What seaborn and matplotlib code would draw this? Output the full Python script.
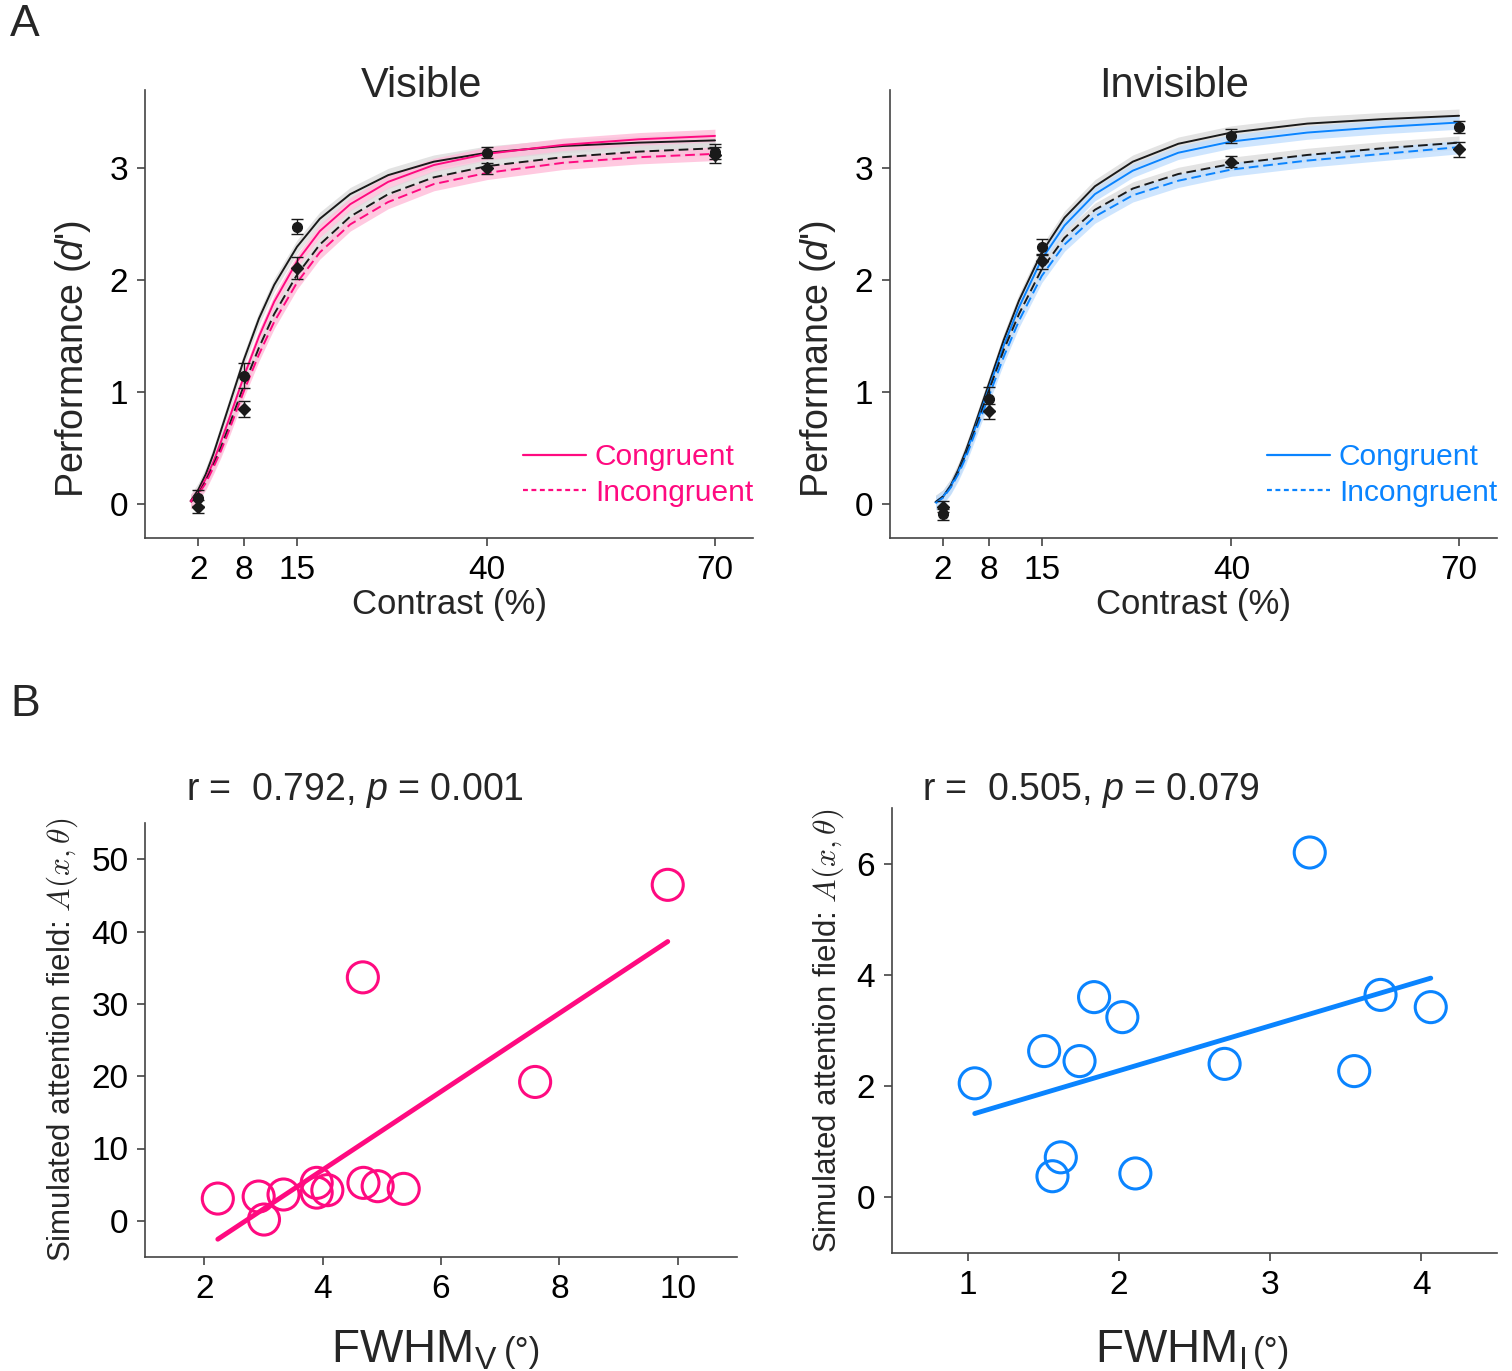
import matplotlib
matplotlib.use('Agg')
import matplotlib.pyplot as plt
from matplotlib.lines import Line2D
import seaborn as sns
import pandas as pd
import numpy as np

sns.set_style('ticks')
plt.rcParams['font.family'] = ['Liberation Sans', 'DejaVu Sans']
plt.rcParams['mathtext.fontset'] = 'custom'
plt.rcParams['mathtext.rm'] = 'Liberation Sans'
plt.rcParams['mathtext.it'] = 'Liberation Sans:italic'
plt.rcParams['axes.edgecolor'] = '#444444'
plt.rcParams['xtick.color'] = '#444444'
plt.rcParams['ytick.color'] = '#444444'
plt.rcParams['xtick.labelcolor'] = 'black'
plt.rcParams['ytick.labelcolor'] = 'black'

PINK = '#ff0a80'
BLUE = '#0a84ff'
DARK = '#1a1a1a'

# ---- panel A: measured d' (mean +- sem) ----
contrast = [2, 8, 15, 40, 70]
vis_cong = [0.06, 1.15, 2.48, 3.14, 3.15]
vis_cong_err = [0.07, 0.11, 0.065, 0.05, 0.07]
vis_incong = [-0.02, 0.85, 2.11, 3.00, 3.12]
vis_incong_err = [0.06, 0.07, 0.10, 0.05, 0.07]
inv_cong = [-0.09, 0.94, 2.30, 3.29, 3.37]
inv_cong_err = [0.05, 0.11, 0.07, 0.06, 0.05]
inv_incong = [-0.02, 0.83, 2.17, 3.06, 3.17]
inv_incong_err = [0.05, 0.07, 0.07, 0.05, 0.07]

# fitted contrast-response curves
fit_contrast = [1, 2, 3, 4, 5, 6, 8, 10, 12, 15, 18, 22, 27, 33, 40, 50, 60, 70]
vis_fit_black_cong = [0.03, 0.13, 0.27, 0.45, 0.66, 0.87, 1.29, 1.66, 1.96, 2.30, 2.55, 2.77, 2.94, 3.06, 3.14, 3.20, 3.23, 3.25]
vis_fit_col_cong = [0.03, 0.10, 0.23, 0.38, 0.56, 0.75, 1.14, 1.50, 1.81, 2.17, 2.44, 2.68, 2.88, 3.03, 3.13, 3.21, 3.26, 3.29]
vis_fit_black_incong = [0.02, 0.09, 0.21, 0.35, 0.51, 0.69, 1.06, 1.40, 1.70, 2.05, 2.32, 2.57, 2.77, 2.92, 3.02, 3.10, 3.15, 3.18]
vis_fit_col_incong = [0.02, 0.09, 0.19, 0.33, 0.48, 0.65, 1.01, 1.34, 1.63, 1.98, 2.25, 2.50, 2.70, 2.86, 2.96, 3.05, 3.10, 3.13]
inv_fit_black_cong = [0.02, 0.07, 0.17, 0.31, 0.48, 0.67, 1.07, 1.47, 1.82, 2.25, 2.56, 2.84, 3.06, 3.22, 3.32, 3.40, 3.44, 3.47]
inv_fit_col_cong = [0.02, 0.07, 0.16, 0.29, 0.45, 0.64, 1.03, 1.42, 1.76, 2.19, 2.49, 2.77, 2.98, 3.14, 3.24, 3.32, 3.37, 3.41]
inv_fit_black_incong = [0.02, 0.07, 0.16, 0.29, 0.45, 0.63, 1.01, 1.38, 1.70, 2.10, 2.38, 2.63, 2.82, 2.95, 3.04, 3.12, 3.18, 3.23]
inv_fit_col_incong = [0.01, 0.06, 0.15, 0.27, 0.42, 0.60, 0.96, 1.32, 1.64, 2.04, 2.32, 2.57, 2.76, 2.89, 2.99, 3.07, 3.13, 3.19]
fit_band = 0.06

# ---- panel B: FWHM vs simulated attention field ----
fwhm_vis = [2.23, 2.92, 3.01, 3.34, 3.90, 3.90, 4.08, 4.69, 4.93, 5.37, 4.68, 7.59, 9.83]
attn_vis = [3.08, 3.36, 0.18, 3.64, 5.25, 3.90, 4.24, 5.25, 4.79, 4.42, 33.66, 19.2, 46.45]
fwhm_inv = [1.047, 1.506, 1.74, 1.836, 2.023, 1.616, 1.561, 2.109, 2.699, 3.262, 3.556, 3.73, 4.062]
attn_inv = [2.05, 2.63, 2.45, 3.60, 3.24, 0.72, 0.38, 0.43, 2.40, 6.20, 2.27, 3.64, 3.42]
stats_vis = 'r =  0.792, $p$ = 0.001'
stats_inv = 'r =  0.505, $p$ = 0.079'

W, H = 1512, 1371
fig = plt.figure(figsize=(W / 100, H / 100), dpi=100)


def px_axes(x0, y0, x1, y1):
    return fig.add_axes([x0 / W, 1 - y1 / H, (x1 - x0) / W, (y1 - y0) / H])


def style_axes(ax):
    sns.despine(ax=ax)
    ax.tick_params(direction='out', length=6, width=1.2, labelsize=24, pad=6)
    for s in ['left', 'bottom']:
        ax.spines[s].set_linewidth(1.2)


def panel_a(ax, title, color, band_color, fits, cong, cong_err, incong, incong_err, tx):
    rows = []
    for name, vals in fits.items():
        rows += [{'contrast': c, 'dprime': v, 'fit': name} for c, v in zip(fit_contrast, vals)]
    df = pd.DataFrame(rows)
    for name, vals in fits.items():
        v = np.array(vals)
        bc = '#dcdcdc' if name.startswith('black') else band_color
        ax.fill_between(fit_contrast, v - fit_band, v + fit_band, color=bc, lw=0, alpha=0.8)
    sns.lineplot(data=df, x='contrast', y='dprime', hue='fit', style='fit',
                 palette={'black_cong': DARK, 'col_cong': color,
                          'black_incong': DARK, 'col_incong': color},
                 dashes={'black_cong': '', 'col_cong': '',
                         'black_incong': (5, 2.5), 'col_incong': (5, 2.5)},
                 linewidth=1.4, legend=False, ax=ax)
    ax.errorbar(contrast, cong, yerr=cong_err, fmt='o', color=DARK, ms=7,
                capsize=4, elinewidth=1, capthick=1, zorder=5)
    ax.errorbar(contrast, incong, yerr=incong_err, fmt='D', color=DARK, ms=6,
                capsize=4, elinewidth=1, capthick=1, zorder=5)
    ax.set_xlim(-5, 75)
    ax.set_ylim(-0.3, 3.7)
    ax.set_xticks(contrast)
    ax.set_yticks([0, 1, 2, 3])
    style_axes(ax)
    ax.set_xlabel('Contrast (%)', fontsize=25, labelpad=2)
    ax.set_ylabel("Performance ($d$')", fontsize=27)
    ax.yaxis.set_label_coords(-0.085, 0.40)
    ax.text(tx, 1.01, title, transform=ax.transAxes, ha='center', va='center', fontsize=30)
    handles = [Line2D([], [], color=color, lw=1.6),
               Line2D([], [], color=color, lw=1.6, ls=(0, (2.2, 1.6)))]
    ax.legend(handles, ['Congruent', 'Incongruent'], loc='lower right',
              bbox_to_anchor=(1.0, 0.07), frameon=False, fontsize=21.5,
              labelcolor='linecolor', handlelength=2.1, handletextpad=0.3,
              labelspacing=0.25, borderpad=0, borderaxespad=0)


def panel_b(ax, x, y, color, stats, sub, xlim, ylim, xticks, yticks, tx, ty, jx, by):
    sns.regplot(x=x, y=y, ci=None, ax=ax, color=color,
                scatter_kws={'s': 500, 'facecolors': 'none', 'edgecolors': color,
                             'linewidths': 2.2, 'alpha': 1},
                line_kws={'lw': 3.5})
    ax.set_xlim(*xlim)
    ax.set_ylim(*ylim)
    ax.set_xticks(xticks)
    ax.set_yticks(yticks)
    style_axes(ax)
    ax.set_xlabel('')
    ax.text(jx, by, 'FWHM$_{\\mathrm{' + sub + '}}$', transform=ax.transAxes,
            ha='right', va='baseline', fontsize=33)
    ax.text(jx + 0.012, by, '(°)', transform=ax.transAxes,
            ha='left', va='baseline', fontsize=25)
    ax.set_ylabel(r'Simulated attention field: $A(x,\theta)$', fontsize=22.5,
                  labelpad=8, math_fontfamily='cm')
    ax.text(tx, ty, stats, transform=ax.transAxes, ha='left', va='center', fontsize=27)


ax1 = px_axes(145, 90, 753, 538)
panel_a(ax1, 'Visible', PINK, '#ffbcd9',
        {'black_cong': vis_fit_black_cong, 'col_cong': vis_fit_col_cong,
         'black_incong': vis_fit_black_incong, 'col_incong': vis_fit_col_incong},
        vis_cong, vis_cong_err, vis_incong, vis_incong_err, 0.454)

ax2 = px_axes(890, 90, 1497, 538)
panel_a(ax2, 'Invisible', BLUE, '#c2dffe',
        {'black_cong': inv_fit_black_cong, 'col_cong': inv_fit_col_cong,
         'black_incong': inv_fit_black_incong, 'col_incong': inv_fit_col_incong},
        inv_cong, inv_cong_err, inv_incong, inv_incong_err, 0.468)

ax3 = px_axes(145, 823, 737, 1257)
panel_b(ax3, fwhm_vis, attn_vis, PINK, stats_vis, 'V',
        (1, 11), (-5, 55), [2, 4, 6, 8, 10], [0, 10, 20, 30, 40, 50],
        0.07, 1.076, 0.595, -0.242)

ax4 = px_axes(892, 808, 1497, 1253)
panel_b(ax4, fwhm_inv, attn_inv, BLUE, stats_inv, 'I',
        (0.5, 4.5), (-1, 7), [1, 2, 3, 4], [0, 2, 4, 6],
        0.05, 1.04, 0.585, -0.245)

fig.text(10 / W, 1 - 25 / H, 'A', fontsize=32, va='center', ha='left')
fig.text(10 / W, 1 - 705 / H, 'B', fontsize=32, va='center', ha='left')

fig.savefig('out.png', dpi=100)
